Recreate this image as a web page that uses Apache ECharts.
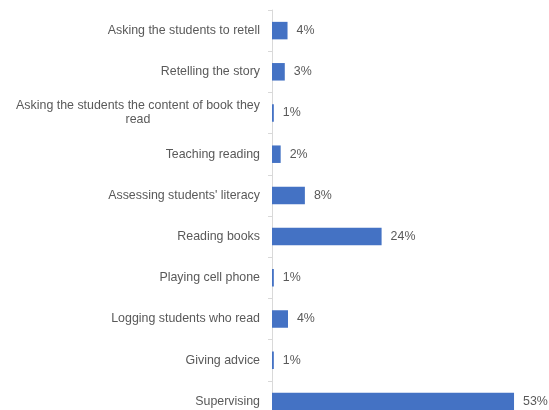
<!DOCTYPE html>
<html><head><meta charset="utf-8">
<script src="https://cdn.jsdelivr.net/npm/echarts@6/dist/echarts.min.js"></script>
<style>html,body{margin:0;padding:0;background:#fff;overflow:hidden}#c{width:549px;height:422px}</style>
</head><body><div id="c"></div>
<script>
const categories = [
  "Asking the students to retell",
  "Retelling the story",
  "Asking the students the content of book they read",
  "Teaching reading",
  "Assessing students' literacy",
  "Reading books",
  "Playing cell phone",
  "Logging students who read",
  "Giving advice",
  "Supervising"
];
const values = [3.4, 2.8, 0.4, 1.9, 7.2, 24.0, 0.4, 3.5, 0.4, 53.0];
const valueLabels = ["4%", "3%", "1%", "2%", "8%", "24%", "1%", "4%", "1%", "53%"];

const FONT = '"Liberation Sans", Arial, sans-serif';
const FS = 12.4;
const longFirst = "Asking the students the content of book they";
const ctx = document.createElement('canvas').getContext('2d');
ctx.font = FS + 'px "Liberation Sans"';
const longW = Math.ceil(ctx.measureText(longFirst).width);

const chart = echarts.init(document.getElementById('c'), null, {renderer: 'canvas'});
chart.setOption({
  animation: false,
  grid: {left: 272, width: 274, top: 10, height: 412, containLabel: false},
  xAxis: {type: 'value', min: 0, max: 60, show: false},
  yAxis: {
    type: 'category', data: categories, inverse: true,
    axisLine: {show: true, lineStyle: {color: '#d9d9d9', width: 1}},
    axisTick: {show: true, length: 4, lineStyle: {color: '#d9d9d9'}},
    axisLabel: {
      margin: 12, color: '#595959', fontSize: FS, fontFamily: FONT, lineHeight: 14,
      formatter: function (v) {
        if (v.indexOf(longFirst) === 0) {
          return '{c|' + longFirst + '}\n{c|' + v.slice(longFirst.length).trim() + '}';
        }
        return v;
      },
      rich: {c: {width: longW, align: 'center', color: '#595959', fontSize: FS, fontFamily: FONT, lineHeight: 14}}
    },
    splitLine: {show: false}
  },
  series: [{
    type: 'bar', data: values, barWidth: 17.5,
    itemStyle: {color: '#4472C4'},
    label: {
      show: true, position: 'right', distance: 9,
      color: '#595959', fontSize: FS, fontFamily: FONT,
      formatter: function (p) { return valueLabels[p.dataIndex]; }
    }
  }]
});
</script>
</body></html>
